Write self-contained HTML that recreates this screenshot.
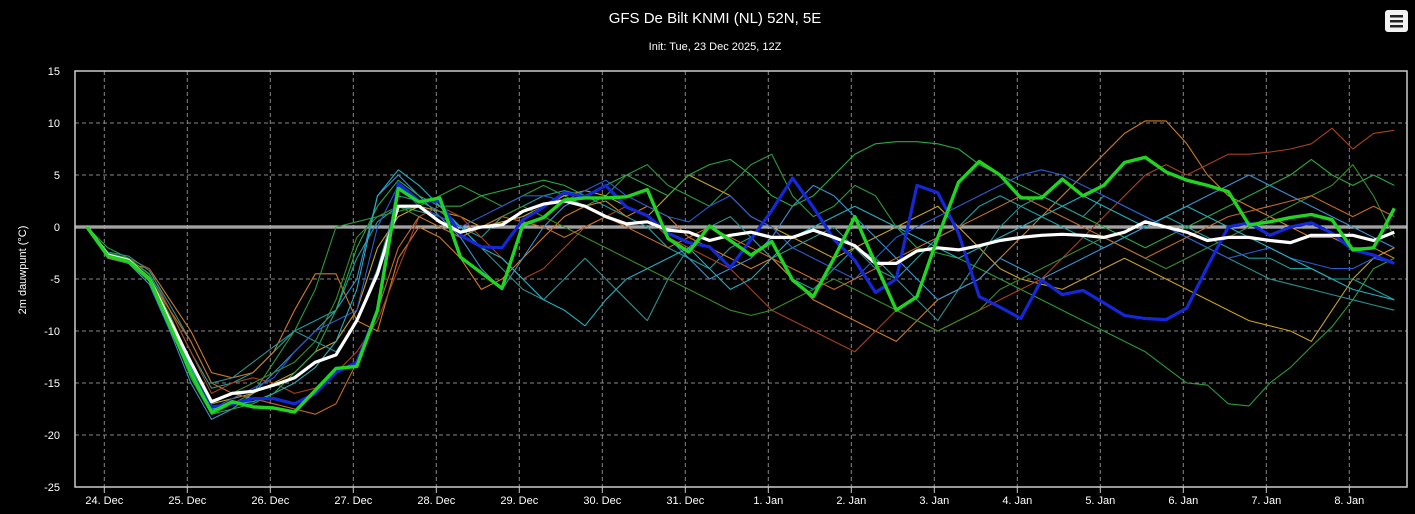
<!DOCTYPE html>
<html><head><meta charset="utf-8">
<style>
html,body{margin:0;padding:0;background:#000;}
svg{display:block;font-family:"Liberation Sans",sans-serif;}
</style></head>
<body>
<svg id="chart" width="1415" height="514" viewBox="0 0 1415 514" xmlns="http://www.w3.org/2000/svg">
<rect x="0" y="0" width="1415" height="514" fill="#000"/>
<text x="715" y="23" text-anchor="middle" fill="#fff" font-size="15">GFS De Bilt KNMI (NL) 52N, 5E</text>
<text x="715" y="50" text-anchor="middle" fill="#fff" font-size="11">Init: Tue, 23 Dec 2025, 12Z</text>
<g>
<rect x="1385" y="10" width="23" height="22" rx="3" fill="#f2f2f2"/>
<rect x="1390" y="15" width="13" height="2.5" fill="#222"/>
<rect x="1390" y="20" width="13" height="2.5" fill="#222"/>
<rect x="1390" y="25" width="13" height="2.5" fill="#222"/>
</g>
<text transform="translate(26,270) rotate(-90)" text-anchor="middle" fill="#fff" font-size="11">2m dauwpunt (°C)</text>
<g id="grid"></g>
<g id="series"></g>
<rect x="75" y="71" width="1332" height="416" fill="none" stroke="#ccc" stroke-width="1.5"/>
<g id="axes"></g>
</svg>
<script>
const yTicks=[15,10,5,0,-5,-10,-15,-20,-25];
const xTickLabels=["24. Dec","25. Dec","26. Dec","27. Dec","28. Dec","29. Dec","30. Dec","31. Dec","1. Jan","2. Jan","3. Jan","4. Jan","5. Jan","6. Jan","7. Jan","8. Jan"];
const meanSeries=[0,-2.7,-3.2,-5,-9,-13,-16.8,-16,-15.8,-15.2,-14.5,-13,-12.3,-9,-4.5,2,2,0.5,-0.5,0,0.2,1.5,2.2,2.5,2,1,0.3,0.5,-0.3,-0.5,-1.3,-0.8,-0.5,-1,-1,-0.3,-1,-1.8,-3.5,-3.5,-2.3,-2,-2.2,-1.8,-1.3,-1,-0.8,-0.7,-0.8,-1,-0.5,0.5,0,-0.5,-1.3,-1,-1,-1.3,-1.5,-0.8,-0.8,-0.8,-1.3,-0.5];
const controlSeries=[0,-2.8,-3.3,-5,-9.5,-14,-17.8,-16.8,-17.3,-17.4,-17.8,-15.7,-13.6,-13.4,-8,3.7,2.4,2.8,-2.9,-4.4,-5.9,0.2,0.9,2.6,2.8,2.8,2.9,3.6,-1.1,-2.4,0.1,-1.3,-2.7,-1.4,-5.1,-6.7,-3,1,-3.5,-8,-6.7,-1,4.3,6.3,5,2.8,2.8,4.6,3,4,6.2,6.7,5.3,4.5,4,3.4,0.2,0.5,0.9,1.2,0.7,-2.2,-2,1.8];
const operSeries=[0,-2.8,-3.3,-5,-9.5,-14,-17.3,-17,-16.5,-16.5,-17,-16,-14,-13,-8,4.2,2.5,2.5,-0.8,-1.9,-2,0.7,1.9,3.3,2.9,4,1.9,1.1,-0.6,-1.5,-1.9,-3.9,-1.2,1.6,4.7,1.9,-1.2,-3.2,-6.3,-5,4,3.3,-0.6,-6.7,-7.7,-8.8,-5.1,-6.5,-6.1,-7.3,-8.5,-8.8,-8.9,-7.8,-3.8,0,0.4,-0.8,0,0.4,-0.6,-2.2,-2.7,-3.5];
const member1=[0,-2.5,-3,-4.5,-8,-12,-15.5,-15,-14,-12,-10,-9,-8,-3,0.5,2,1.5,1,0,-1,1,2,3,3.5,3,2,1,0,-2,-3,-4,-2,-1,-3,-5,-6,-4,-2,-3,-5,-3,-1,0,2,3,2,1,0,-1,-2,-1,0,1,0,-1,-2,-3,-3,-4,-4,-5,-5,-6,-7];
const member2=[0,-3,-3.5,-4,-7,-10,-14,-14.5,-14,-12,-8,-4.5,-4.5,-9,-10,-3,0,-1,-3,-6,-5,-3,-1,1,2,2.5,1,2,1,-1,-2,-3,-4,-3,-5,-7,-8,-9,-10,-11,-9,-7,-6,-5,-3,-1,1,3,5,7,9,10.2,10.2,8,5,3,2,1,0,-1,-1,-2,-2,-3];
const member3=[0,-2,-3,-5,-9,-14,-18,-17,-16,-13,-10,-6,0,0.5,1,1.5,2,3,4,3,2,3,4,3,2,3,5,6,4,3,2,4,6,7,3,1,2,4,3,0,-2,-2.5,-3,-4,-5,-6,-7,-8,-9,-10,-11,-12,-13.5,-15,-15.2,-17,-17.2,-15,-13.5,-11.5,-9.6,-7,-4,-3];
const member4=[0,-2.8,-3.5,-5.5,-10,-15,-18.5,-17.5,-16,-14,-12,-10,-8,-5,3,5,3,1,-1,-4,-6,-3,0,2,3,4,2,1,-1,-3,-5,-4,-3,-1,2,4,3,1,-1,-3,-5,-7,-6,-5,-3,-4,-5,-4,-3,-2,-1,0,1,2,3,4,5,4,3,2,1,0,-1,-2];
const member5=[0,-2.6,-3.2,-4.8,-8.5,-13,-17,-16.5,-16,-15,-14,-12,-11,-8,-2,1,2,1.5,1,0,0.5,1,2,3,3.5,3,2,1,3,5,4,3,1,0,-1,-2,-3,-2,-1,0,1,2,0,-2,-4,-5,-5.5,-6,-5,-4,-3,-4,-5,-6,-7,-8,-9,-9.5,-10,-11,-8,-5,-3,-2];
const member6=[0,-2.7,-3,-4,-8,-12,-16,-15,-14.5,-15,-16,-15.5,-14,-12,-9,-4,1,2,1,-1,-3,-5,-4,-2,0,1,2,1,-1,-2,-3,-4,-6,-8,-9,-10,-11,-12,-10,-8,-9,-10,-9,-8,-7,-6,-5,-3,-1,1,3,5,6,5,6,7,7,7.2,7.5,8,9.5,7.5,9,9.3];
const member7=[0,-2.9,-3.5,-5.2,-9.5,-14.5,-18,-17.5,-17,-16,-14,-12,-8,-2,2,4.5,3,2,2,3,3.5,4,4.5,4,3,4,5,4,3,5,6,6.5,5,3,2,3,5,7,8,8.2,8.2,8,7.5,6,5,4,3,2,1,0,-1,-2,-1,0,1,2,3,4,5,6.5,5,4,5,4];
const member8=[0,-2.4,-2.8,-4.2,-7.5,-11,-15,-14.5,-13,-11.5,-10,-11,-12,-9,-4,3,2.5,1.5,0,-2,-4,-6,-7,-5,-3,-5,-7,-9,-5,-2,0,1,-1,-3,-2,-1,0,-2,-4,-5,-7,-9,-6,-3,0,2,3,2,1,3,2,1,0,-1,-2,-3,-4,-5,-5.5,-6,-6.5,-7,-7.5,-8];
const member9=[0,-2.8,-3.4,-5,-9,-14,-17.5,-16.5,-15.5,-14.5,-12,-10,-9,-8,0,4,2,1,0,1,2,3,3,2.5,3.5,4.5,3,2,1,0.5,2,3,1,0,-2,-3,-4,-5,-3,-1,0,1,2,3,4,5,5.5,5,4,3,2,1,0,-1,-2,-3,-2.5,-2,-3,-3.5,-4,-4,-3,-3.5];
const member10=[0,-2.5,-3,-4.6,-8.5,-13.5,-17,-16,-15,-14,-13,-11,-7,-1,1,2,1,0,-1,0,1,2,1,0,-1,-2,-3,-4,-5,-6,-7,-8,-8.5,-8,-7,-6,-5,-6,-7,-8,-9,-10,-9,-8,-6,-5,-4,-3,-2,-1,-2,-3,-4,-3,-2,-1,0,1,2,3,4,6,3,-1];
const member11=[0,-2.8,-3.3,-5,-8,-11,-15,-16,-16.5,-17,-17.5,-18,-17,-13,-8,-2,1,0,-1,0,1,0.5,0,-1,0,1,0,-1,-2,-1,0,-1,-2,-3,-4,-5,-6,-5,-4,-3,-2,-1,0,1,2,3,2,1,0,-1,-2,-3,-2,-1,0,1,1.5,2,2.5,3,2,1,2,1];
const member12=[0,-2.6,-3.1,-4.9,-9,-13.5,-17.5,-17,-16.8,-16,-15,-13.5,-11,-6,3,5.5,4,2,0,-2,-3,-5,-7,-8,-9.5,-7,-5,-4,-3,-2,-4,-6,-5,-3,-1,0,1,2,1,0,-1,-2,-3,-2,-1,0,1,2,3,2,1,0,1,2,1,0,-1,-2,-3,-4,-5,-6,-6.5,-7];
const members=[member1,member2,member3,member4,member5,member6,member7,member8,member9,member10,member11,member12];
const memberColors=["#1a9fa0","#d07a22","#2a9a3a","#3a8fd0","#c8a020","#a8401e","#28a848","#2a9090","#2a5ad0","#3a8a2a","#c06a28","#20b0c0"];

const NS="http://www.w3.org/2000/svg";
const PL=75,PR=1407,PT=71,PB=487,YMAX=15,YMIN=-25;
const DAYPX=83,X24=104.3,STEP_H=6,START_H=-5;
function yScale(v){return PT+(YMAX-v)*(PB-PT)/(YMAX-YMIN);}
function xDay(d){return X24+d*DAYPX;}
function xIdx(i){return xDay((START_H+i*STEP_H)/24);}
function mk(tag,attrs,parent){const e=document.createElementNS(NS,tag);for(const k in attrs)e.setAttribute(k,attrs[k]);parent.appendChild(e);return e;}

const grid=document.getElementById('grid'),axes=document.getElementById('axes'),ser=document.getElementById('series');
yTicks.forEach(v=>{
  const y=yScale(v);
  if(v!==0&&v!==YMAX&&v!==YMIN){
    const l=mk('line',{x1:PL,x2:PR,y1:y,y2:y,stroke:'#888','stroke-dasharray':'4,3','stroke-width':1},grid);
    
    
  }
  const t=mk('text',{x:PL-15,y:y+4,'text-anchor':'end',fill:'#fff','font-size':11},axes);
  t.textContent=v;
  
  
});
xTickLabels.forEach((lab,d)=>{
  const x=xDay(d);
  const l=mk('line',{x1:x,x2:x,y1:PT,y2:PB,stroke:'#888','stroke-dasharray':'4,3','stroke-width':1},grid);
  
  
  const tk=mk('line',{x1:x,x2:x,y1:PB,y2:PB+6,stroke:'#ccc','stroke-width':1},axes);
  
  
  const t=mk('text',{x:x,y:PB+17,'text-anchor':'middle',fill:'#fff','font-size':11},axes);
  t.textContent=lab;
  
  
});
const zl=mk('line',{x1:PL,x2:PR,y1:yScale(0),y2:yScale(0),stroke:'#ddd','stroke-width':3},grid);


const zl2=mk('line',{x1:PL,x2:PR,y1:yScale(0),y2:yScale(0),stroke:'#666','stroke-width':1},grid);



function pts(arr){return arr.map((v,i)=>xIdx(i).toFixed(1)+','+yScale(v).toFixed(1)).join(' ');}
members.forEach((m,k)=>{
  const p=mk('polyline',{points:pts(m),fill:'none',stroke:memberColors[k],'stroke-width':1.1,'stroke-linejoin':'round'},ser);
  
  
});
const ob=mk('polyline',{points:pts(operSeries),fill:'none',stroke:'#1428d8','stroke-width':3.2,'stroke-linejoin':'round'},ser);


const mn=mk('polyline',{points:pts(meanSeries),fill:'none',stroke:'#fff','stroke-width':3.2,'stroke-linejoin':'round'},ser);


const cl=mk('polyline',{points:pts(controlSeries),fill:'none',stroke:'#22d422','stroke-width':3.4,'stroke-linejoin':'round'},ser);


</script>
</body></html>
